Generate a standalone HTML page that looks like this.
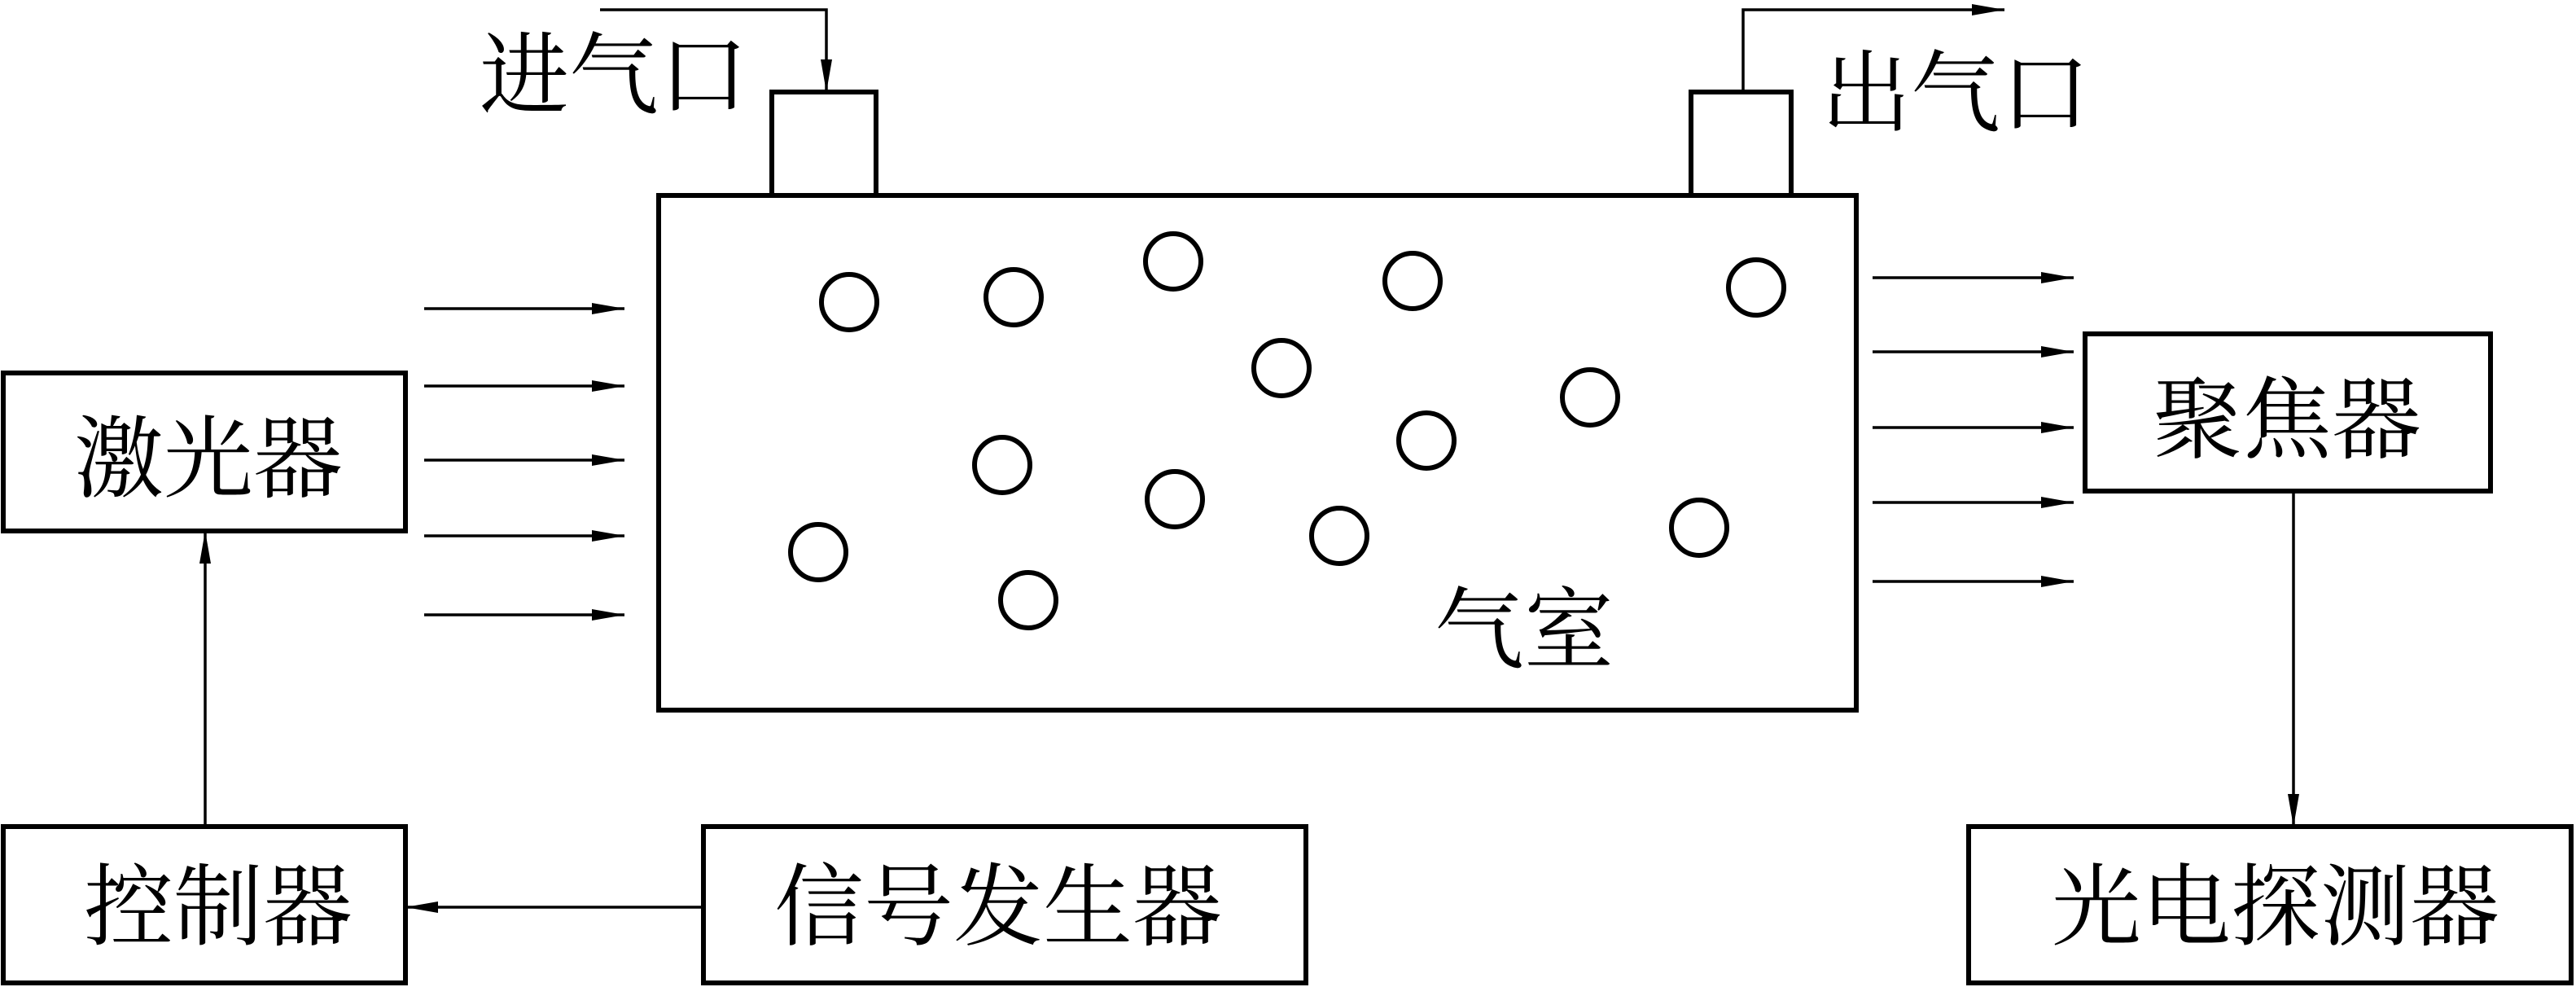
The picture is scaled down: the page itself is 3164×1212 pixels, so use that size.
<!DOCTYPE html>
<html><head><meta charset="utf-8"><style>
html,body{margin:0;padding:0;background:#fff;}
svg{display:block;}
text{font-family:"Liberation Serif","Noto Serif CJK SC",serif;font-size:110px;fill:#000;}
</style></head><body>
<svg width="3164" height="1212" viewBox="0 0 3164 1212" xmlns="http://www.w3.org/2000/svg">
<defs>
<marker id="a" markerWidth="40" markerHeight="14" refX="40" refY="7" orient="auto" markerUnits="userSpaceOnUse">
<path d="M0,0 L40,7 L0,14 Z" fill="#000"/>
</marker>
</defs>
<g fill="none" stroke="#000" stroke-width="6">
<rect x="809" y="240" width="1471" height="632"/>
<rect x="948" y="113" width="128" height="127"/>
<rect x="2077" y="113" width="123" height="127"/>
<rect x="4" y="458" width="494" height="194"/>
<rect x="4" y="1015" width="494" height="192"/>
<rect x="864" y="1015" width="740" height="192"/>
<rect x="2561" y="410" width="498" height="193"/>
<rect x="2418" y="1015" width="740" height="192"/>
<circle cx="1043" cy="371" r="34"/>
<circle cx="1245" cy="365" r="34"/>
<circle cx="1441" cy="321" r="34"/>
<circle cx="1735" cy="345" r="34"/>
<circle cx="2157" cy="353" r="34"/>
<circle cx="1574" cy="452" r="34"/>
<circle cx="1953" cy="488" r="34"/>
<circle cx="1231" cy="571" r="34"/>
<circle cx="1752" cy="541" r="34"/>
<circle cx="1443" cy="613" r="34"/>
<circle cx="1645" cy="658" r="34"/>
<circle cx="2087" cy="648" r="34"/>
<circle cx="1005" cy="678" r="34"/>
<circle cx="1263" cy="737" r="34"/>
</g>
<g fill="none" stroke="#000" stroke-width="3.5" marker-end="url(#a)">
<polyline points="737,12 1015,12 1015,113"/>
<polyline points="2141,113 2141,12 2462,12"/>
<line x1="521" y1="379" x2="767" y2="379"/>
<line x1="521" y1="474" x2="767" y2="474"/>
<line x1="521" y1="565" x2="767" y2="565"/>
<line x1="521" y1="658" x2="767" y2="658"/>
<line x1="521" y1="755" x2="767" y2="755"/>
<line x1="2300" y1="341" x2="2547" y2="341"/>
<line x1="2300" y1="432" x2="2547" y2="432"/>
<line x1="2300" y1="525" x2="2547" y2="525"/>
<line x1="2300" y1="617" x2="2547" y2="617"/>
<line x1="2300" y1="714" x2="2547" y2="714"/>
<line x1="252" y1="1015" x2="252" y2="652"/>
<line x1="864" y1="1114" x2="498" y2="1114"/>
<line x1="2817" y1="603" x2="2817" y2="1015"/>
</g>
<g text-anchor="middle">
<text x="754" y="131">进气口</text>
<text x="2402" y="153">出气口</text>
<text x="256" y="602">激光器</text>
<text x="268" y="1152">控制器</text>
<text x="1226" y="1152">信号发生器</text>
<text x="2809" y="554">聚焦器</text>
<text x="2795" y="1152">光电探测器</text>
<text x="1872" y="812">气室</text>
</g>
</svg>
</body></html>
